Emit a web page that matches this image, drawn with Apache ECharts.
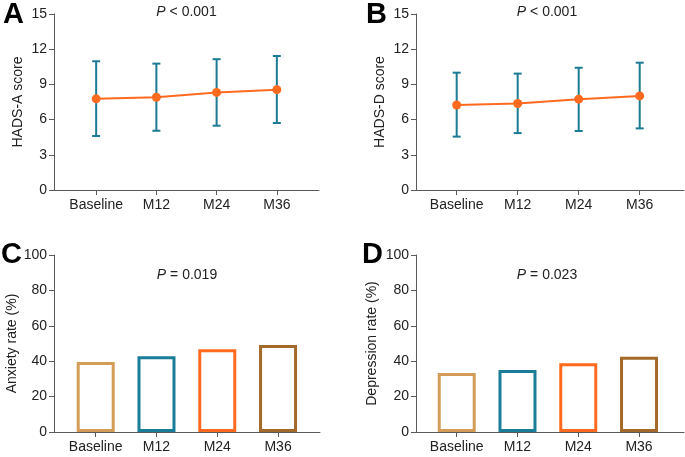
<!DOCTYPE html>
<html>
<head>
<meta charset="utf-8">
<script src="https://cdn.jsdelivr.net/npm/echarts@6/dist/echarts.min.js"></script>
<style>html,body{margin:0;padding:0;background:#fff}#c{width:685px;height:457px}</style>
</head>
<body>
<div id="c"></div>
<script>
const categories = ['Baseline', 'M12', 'M24', 'M36'];
const hadsAMean = [7.77, 7.9, 8.32, 8.55];
const hadsALow = [4.6, 5.05, 5.48, 5.71];
const hadsAHigh = [10.97, 10.77, 11.15, 11.42];
const hadsDMean = [7.24, 7.37, 7.74, 8.02];
const hadsDLow = [4.55, 4.85, 5.03, 5.25];
const hadsDHigh = [10.0, 9.92, 10.42, 10.85];
const anxietyRate = [39.5, 42.8, 46.8, 49.2];
const depressionRate = [33.4, 35.0, 38.9, 42.5];
const scoreTicks = [0, 3, 6, 9, 12, 15];
const rateTicks = [0, 20, 40, 60, 80, 100];

const barColors = ['#D39D58', '#1A7E98', '#FF6A1E', '#A2692B'];
const FONT = '"Liberation Sans", Arial, Helvetica, sans-serif';
const AXIS = '#5a5a5a';
const TEXT = '#222';
const ERR = '#1C7B94';
const LINE = '#FF6A1E';
const idx = categories.map((_, i) => i);

const grids = [
  {left: 54, top: 14, width: 265, height: 176},
  {left: 416, top: 14, width: 268, height: 176},
  {left: 54, top: 255, width: 266, height: 177},
  {left: 416, top: 255, width: 268, height: 177}
];
const xRanges = [[-0.7, 3.7], [-0.667, 3.726], [-0.686, 3.69], [-0.67, 3.74]];

function xAxisFor(i) {
  return {
    type: 'value', gridIndex: i, min: xRanges[i][0], max: xRanges[i][1],
    splitLine: {show: false},
    axisLine: {show: true, onZero: false, lineStyle: {color: AXIS, width: 1}},
    axisTick: {show: true, customValues: idx, length: 5, lineStyle: {color: AXIS}},
    axisLabel: {show: true, customValues: idx, margin: 8, color: TEXT, fontSize: 14, fontFamily: FONT,
      formatter: v => categories[Math.round(v)] || ''}
  };
}
function yAxisFor(i, ticks, name, gap) {
  return {
    type: 'value', gridIndex: i, min: ticks[0], max: ticks[ticks.length - 1],
    interval: ticks[1] - ticks[0],
    name: name, nameLocation: 'middle', nameGap: gap,
    nameTextStyle: {color: TEXT, fontSize: 14, fontFamily: FONT},
    splitLine: {show: false},
    axisLine: {show: true, onZero: false, lineStyle: {color: AXIS, width: 1}},
    axisTick: {show: true, length: 5, lineStyle: {color: AXIS}},
    axisLabel: {margin: 7, color: TEXT, fontSize: 14, fontFamily: FONT}
  };
}

function errSeries(gi, low, high) {
  return {
    type: 'custom', xAxisIndex: gi, yAxisIndex: gi, z: 2,
    data: idx.map(i => [i, low[i], high[i]]),
    renderItem: function (params, api) {
      const x = api.value(0);
      const lo = api.coord([x, api.value(1)]);
      const hi = api.coord([x, api.value(2)]);
      const hw = 4;
      const st = {stroke: ERR, lineWidth: 2};
      return {type: 'group', children: [
        {type: 'line', shape: {x1: lo[0], y1: lo[1], x2: hi[0], y2: hi[1]}, style: st},
        {type: 'line', shape: {x1: lo[0] - hw, y1: lo[1], x2: lo[0] + hw, y2: lo[1]}, style: st},
        {type: 'line', shape: {x1: hi[0] - hw, y1: hi[1], x2: hi[0] + hw, y2: hi[1]}, style: st}
      ]};
    }
  };
}
function lineSeries(gi, mean) {
  return {
    type: 'line', xAxisIndex: gi, yAxisIndex: gi, z: 3,
    data: idx.map(i => [i, mean[i]]),
    symbol: 'circle', symbolSize: 9,
    lineStyle: {color: LINE, width: 2},
    itemStyle: {color: LINE}
  };
}
function barSeries(gi, vals) {
  return {
    type: 'bar', xAxisIndex: gi, yAxisIndex: gi, barWidth: 38,
    data: idx.map(i => ({value: [i, vals[i]], itemStyle: {color: '#fff', borderColor: barColors[i], borderWidth: 3}}))
  };
}

function pText(x, y, rest) {
  return {type: 'text', x: x, y: y, style: {
    text: '{i|P}' + rest, align: 'center', verticalAlign: 'middle',
    font: '14px ' + FONT, fill: TEXT,
    rich: {i: {fontStyle: 'italic', fontSize: 14, fontFamily: FONT, fill: TEXT}}
  }};
}
function letter(x, y, t) {
  return {type: 'text', x: x, y: y, style: {
    text: t, align: 'left', verticalAlign: 'middle',
    font: 'bold 29px ' + FONT, fill: '#000'
  }};
}

const option = {
  animation: false,
  backgroundColor: '#fff',
  grid: grids,
  xAxis: [0, 1, 2, 3].map(xAxisFor),
  yAxis: [
    yAxisFor(0, scoreTicks, 'HADS-A score', 29),
    yAxisFor(1, scoreTicks, 'HADS-D score', 29),
    yAxisFor(2, rateTicks, 'Anxiety rate (%)', 35),
    yAxisFor(3, rateTicks, 'Depression rate (%)', 37)
  ],
  series: [
    errSeries(0, hadsALow, hadsAHigh), lineSeries(0, hadsAMean),
    errSeries(1, hadsDLow, hadsDHigh), lineSeries(1, hadsDMean),
    barSeries(2, anxietyRate), barSeries(3, depressionRate)
  ],
  graphic: [
    pText(186.5, 12, ' < 0.001'),
    pText(547, 12, ' < 0.001'),
    pText(187, 275.5, ' = 0.019'),
    pText(547, 275.5, ' = 0.023'),
    letter(3, 15, 'A'),
    letter(366, 15, 'B'),
    letter(1, 255, 'C'),
    letter(362, 255, 'D')
  ]
};
const chart = echarts.init(document.getElementById('c'), null, {renderer: 'canvas'});
chart.setOption(option);
</script>
</body>
</html>
